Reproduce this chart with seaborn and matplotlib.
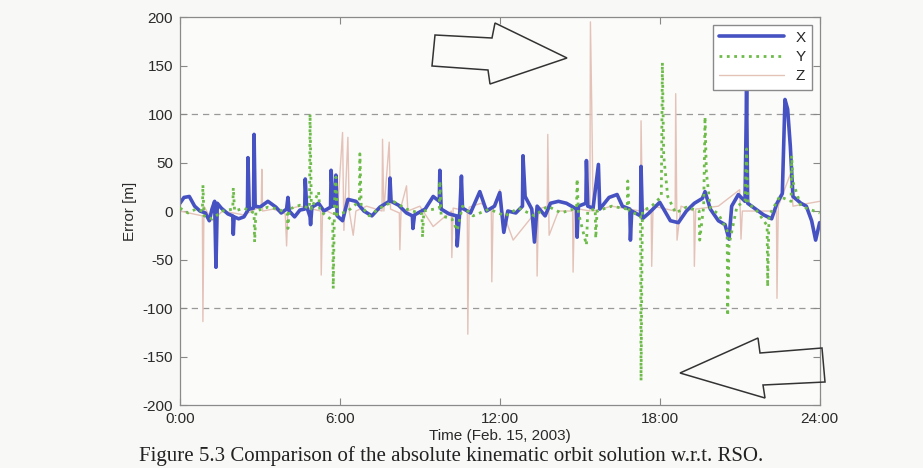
# ==========================================================
# Kinematic orbit error vs. RSO (Feb. 15, 2003)
# ==========================================================

import matplotlib
matplotlib.use("Agg")
import matplotlib.pyplot as plt
from matplotlib.patches import Polygon
import seaborn as sns

# ==========================================================
# Data (hours of day, error in metres)
# ==========================================================

x_time = [0.0, 0.15, 0.35, 0.55, 0.75, 0.95, 1.1, 1.2, 1.3, 1.35, 1.4, 1.55, 1.8,
          1.98, 2.0, 2.03, 2.2, 2.4, 2.53, 2.55, 2.6, 2.76, 2.78, 2.82, 3.0, 3.3,
          3.6, 3.8, 4.0, 4.05, 4.1, 4.3, 4.5, 4.68, 4.7, 4.75, 4.88, 4.9, 4.95,
          5.2, 5.4, 5.65, 5.67, 5.75, 5.83, 5.85, 5.9, 6.1, 6.3, 6.6, 6.9, 7.2,
          7.5, 7.85, 7.88, 7.92, 8.2, 8.5, 8.72, 8.74, 8.8, 9.2, 9.5, 9.73, 9.75,
          9.8, 10.1, 10.38, 10.4, 10.5, 10.56, 10.6, 10.9, 11.25, 11.5, 11.8,
          12.0, 12.15, 12.3, 12.6, 12.85, 12.87, 12.95, 13.2, 13.3, 13.4, 13.7,
          13.9, 14.2, 14.5, 14.88, 14.9, 14.95, 15.23, 15.25, 15.3, 15.5, 15.7,
          15.75, 16.1, 16.4, 16.6, 16.88, 16.9, 16.95, 17.28, 17.3, 17.35, 17.6,
          18.0, 18.4, 18.7, 19.0, 19.3, 19.6, 19.7, 19.9, 20.2, 20.45, 20.6,
          20.7, 20.95, 21.2, 21.26, 21.3, 21.6, 21.9, 22.2, 22.4, 22.6, 22.7,
          22.8, 22.9, 23.0, 23.3, 23.5, 23.7, 23.85, 24.0]
x_err = [8, 14, 15, 5, 0, -2, -10, 2, 10, -58, 8, 3, -3,
         -5, -24, -6, -8, -6, 0, 55, 2, 3, 79, 5, 4, 10,
         4, -2, 2, 14, 0, -6, 1, 2, 33, 5, -6, -14, 4,
         8, 0, 4, 42, 5, 10, 37, -5, -10, 12, 10, 0, -5,
         4, 10, 34, 10, 6, -2, -5, -18, -4, 2, 15, 10, 42,
         2, -3, -5, -36, 0, 36, 3, -2, 20, 0, 5,
         19, -22, 0, -2, 5, 57, 15, 2, -32, 5, -5,
         8, 10, 8, 2, -27, 5, 8, 52, 5, 3, 48,
         2, 14, 17, 5, 2, -30, 0, -5, 46, -8, -2,
         9, -10, -12, 0, 8, 13, 20, 2, -10, -14, -29,
         5, 17, 10, 124, 8, 2, -4, -8, 8, 18, 115,
         105, 67, 15, 8, 5, -10, -30, -12]

y_time = [0.0, 0.3, 0.6, 0.84, 0.86, 0.9, 1.2, 1.6, 1.98, 2.0, 2.05, 2.4, 2.78,
          2.8, 2.85, 3.3, 3.7, 4.03, 4.05, 4.1, 4.5, 4.86, 4.88, 4.93, 5.2,
          5.25, 5.5, 5.73, 5.75, 5.8, 5.85, 5.9, 6.3, 6.73, 6.75, 6.8, 7.1, 7.5,
          8.0, 8.5, 9.08, 9.1, 9.15, 9.73, 9.75, 9.8, 10.2, 10.4, 10.6, 11.0,
          11.6, 12.2, 12.7, 13.3, 13.8, 14.3, 14.88, 14.9, 14.95, 15.25, 15.3,
          15.58, 15.6, 15.65, 16.2, 16.78, 16.8, 16.85, 17.28, 17.3, 17.35, 17.7,
          18.06, 18.1, 18.15, 18.3, 18.6, 19.0, 19.48, 19.5, 19.65, 19.7, 19.75,
          19.9, 20.2, 20.53, 20.55, 20.6, 20.9, 21.2, 21.26, 21.3, 21.6, 22.03,
          22.05, 22.1, 22.5, 22.93, 22.95, 23.0, 23.3, 24.0]
y_err = [3, -2, 2, 0, 27, -5, -8, 0, 2, 24, 0, 3, -2,
         -32, 0, 4, 2, -3, -18, 2, 6, 3, 100, 2, 20,
         0, -5, -10, -80, 10, 35, -4, 0, 10, 59, 5, -5, 3,
         10, 2, -3, -27, 0, 3, 31, -5, -8, -20, 5, -5,
         2, -5, 3, -5, 5, -2, 3, 33, -2, -35, 0,
         2, -28, 0, 5, 2, 31, 0, -5, -175, 0, 5,
         15, 153, 57, 15, -2, 4, 0, -30, 5, 97, 40,
         3, -3, -20, -108, -35, 5, 10, 64, 8, 2, -15,
         -78, -5, 15, 10, 57, 30, 5, -2]

z_time = [0.0, 0.5, 0.84, 0.86, 0.9, 1.2, 1.6, 2.4, 3.05, 3.07, 3.1, 3.5, 3.95,
          4.0, 4.05, 4.5, 5.28, 5.3, 5.35, 5.9, 6.1, 6.15, 6.3, 6.35, 6.5, 6.6,
          7.0, 7.58, 7.6, 7.65, 7.85, 7.9, 8.23, 8.25, 8.3, 8.5, 8.55, 9.0, 9.5,
          10.18, 10.2, 10.25, 10.78, 10.8, 10.85, 11.3, 11.68, 11.7, 11.75, 12.0,
          12.1, 12.5, 13.38, 13.4, 13.45, 13.78, 13.8, 13.85, 14.2, 14.73, 14.75,
          14.8, 15.38, 15.4, 15.45, 15.5, 16.2, 17.28, 17.3, 17.35, 17.68, 17.7,
          17.75, 18.58, 18.6, 18.65, 18.8, 19.28, 19.3, 19.35, 20.2, 21.0, 21.05,
          21.1, 22.38, 22.4, 22.45, 22.9, 23.0, 24.0]
z_err = [0, -3, -5, -114, 5, -10, 0, -4, 5, 43, 0, 2, -3,
         -36, 2, 5, 0, -66, 2, -5, 81, -20, 76, 0, -25, 0,
         5, 0, 74, 0, 71, 2, -2, -40, 5, 26, 0, 5, -16,
         0, -48, 3, 0, -127, 4, 8, 0, -73, 3, 22,
         0, -30, 0, -67, 2, 5, 79, -25, 0, 0, -63,
         3, 0, 195, 108, 0, 5, 0, 93, 2, 0, -57,
         5, 0, 121, -30, 5, 0, -57, 2, 5, 22, -29,
         0, 0, -90, 5, 38, 5, 10]

hour_ticks = [0, 6, 12, 18, 24]
hour_labels = ["0:00", "6:00", "12:00", "18:00", "24:00"]
err_ticks = [-200, -150, -100, -50, 0, 50, 100, 150, 200]
series_names = ["X", "Y", "Z"]

# ==========================================================
# Figure
# ==========================================================

sns.set_theme(style="white")
plt.rcParams["font.family"] = ["Liberation Sans", "DejaVu Sans"]
plt.rcParams["axes.unicode_minus"] = False

fig = plt.figure(figsize=(9.23, 4.68), dpi=100, facecolor="#f8f8f7")
ax = fig.add_axes([0.195, 0.1346, 0.693, 0.829])
ax.set_facecolor("#fbfbfa")

# threshold lines at +/-100 m
for lvl in (-100, 100):
    ax.axhline(lvl, color="#999999", linestyle=(0, (5, 4)), linewidth=0.9, zorder=0)

sns.lineplot(x=z_time, y=z_err, ax=ax, estimator=None, color="#e4c2b8",
             linewidth=1.0, zorder=1, label=series_names[2])
sns.lineplot(x=x_time, y=x_err, ax=ax, estimator=None, color="#4652c2",
             linewidth=2.6, zorder=2, label=series_names[0])
sns.lineplot(x=y_time, y=y_err, ax=ax, estimator=None, color="#6dbb48",
             linewidth=2.0, linestyle=":", zorder=3, label=series_names[1])

ax.set_xlim(0, 24)
ax.set_ylim(-200, 200)
ax.set_xticks(hour_ticks)
ax.set_xticklabels(hour_labels)
ax.set_yticks(err_ticks)

ax.set_xlabel("Time (Feb. 15, 2003)", fontsize=11, color="#2a2a2a", labelpad=2)
ax.set_ylabel("Error [m]", fontsize=11, color="#2a2a2a", labelpad=4)

ax.tick_params(direction="in", length=5, width=0.8, color="#888888",
               labelsize=11, labelcolor="#2a2a2a", top=True, right=True,
               left=True, bottom=True, pad=5)
for side in ax.spines.values():
    side.set_color("#8a8a8a")
    side.set_linewidth(0.9)

# legend in X, Y, Z order
handles, labels = ax.get_legend_handles_labels()
order = [labels.index(n) for n in series_names]
leg = ax.legend([handles[i] for i in order], series_names, loc="upper right",
                fontsize=11, handlelength=4.2, frameon=True, fancybox=False,
                borderaxespad=0.5, labelspacing=0.35)
leg.get_frame().set_edgecolor("#8a8a8a")
leg.get_frame().set_facecolor("white")
leg.get_frame().set_alpha(1)

# hand-drawn arrows pointing at the outliers (figure pixels)
W, H = 923, 468
arrow_right = [(435, 35), (492, 38), (495, 23), (567, 58), (490, 84), (488, 70), (432, 66)]
arrow_left = [(680, 373), (758, 338), (760, 353), (822, 348), (825, 382), (763, 385), (765, 398)]
for pts in (arrow_right, arrow_left):
    fig.patches.append(Polygon([(px / W, 1 - py / H) for px, py in pts], closed=True,
                               fill=False, edgecolor="#333333", linewidth=1.1,
                               transform=fig.transFigure, figure=fig))

fig.text(0.489, 1 - 466 / H,
         "Figure 5.3 Comparison of the absolute kinematic orbit solution w.r.t. RSO.",
         family=["Liberation Serif", "DejaVu Serif"], fontsize=15, color="#222222",
         ha="center", va="bottom")

fig.savefig("out.png", dpi=100, facecolor=fig.get_facecolor())
